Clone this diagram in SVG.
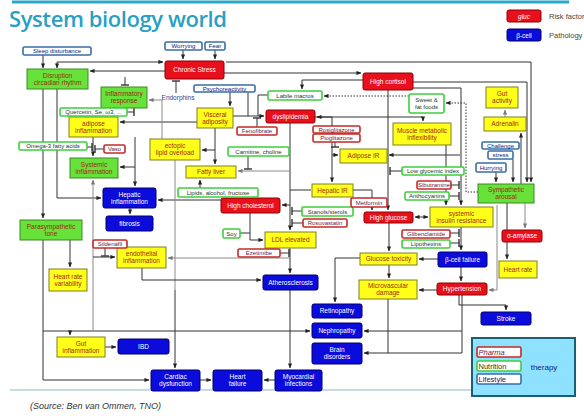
<svg xmlns="http://www.w3.org/2000/svg" width="584" height="416" viewBox="0 0 584 416">
<defs>
<marker id="a" viewBox="0 0 6 6" refX="5.5" refY="3" markerWidth="5" markerHeight="5" orient="auto-start-reverse" markerUnits="userSpaceOnUse"><path d="M0,0.5 L6,3 L0,5.5 z" fill="#222"/></marker>
<marker id="ag" viewBox="0 0 6 6" refX="5.5" refY="3" markerWidth="5" markerHeight="5" orient="auto-start-reverse" markerUnits="userSpaceOnUse"><path d="M0,0.5 L6,3 L0,5.5 z" fill="#777"/></marker>
<marker id="t" viewBox="0 0 4 8" refX="2" refY="4" markerWidth="4" markerHeight="8" orient="auto" markerUnits="userSpaceOnUse"><path d="M2,0 V8" stroke="#333" stroke-width="1.4"/></marker>
</defs>
<style>
text{font-family:"Liberation Sans",Arial,sans-serif;font-size:6px;text-anchor:middle}
.fr{fill:#e8101c;stroke:#8b0000;stroke-width:1}
.fb{fill:#0b0bdc;stroke:#00006a;stroke-width:1}
.fy{fill:#ffff1a;stroke:#7f7f20;stroke-width:1}
.fg{fill:#66e23a;stroke:#3d8a25;stroke-width:1}
.op{fill:#fff;stroke:#c42a2a;stroke-width:1.6}
.on{fill:#fff;stroke:#3ccf3c;stroke-width:1.6}
.ol{fill:#fff;stroke:#3a6ea5;stroke-width:1.6}
.tw{fill:#fff;font-size:6.5px}
.ty{fill:#9c2a10;font-size:6.5px}
.tp{fill:#6a1a40}
.tn{fill:#1a3a1a}
.tl{fill:#10207a}
.k{fill:none;stroke:#333;stroke-width:1;marker-end:url(#a)}
.kn{fill:none;stroke:#333;stroke-width:1}
.b{fill:none;stroke:#333;stroke-width:1;marker-start:url(#a);marker-end:url(#a)}
.g{fill:none;stroke:#8a8a8a;stroke-width:1;marker-end:url(#ag)}
.gn{fill:none;stroke:#8a8a8a;stroke-width:1}
.d{fill:none;stroke:#333;stroke-width:1;stroke-dasharray:1.5,1.5;marker-end:url(#a)}
.t{fill:none;stroke:#333;stroke-width:1;marker-end:url(#t)}
</style>
<rect width="584" height="416" fill="#fff"/>
<line x1="12" y1="2" x2="569" y2="2" stroke="#2aa8c8" stroke-width="3"/>
<text x="9" y="27" style="font-family:'Open Sans','Liberation Sans',sans-serif;font-size:22px;font-weight:600;text-anchor:start;fill:#2a9fc4" textLength="218">System biology world</text>
<line x1="10" y1="390" x2="472" y2="390" stroke="#c6dbe3" stroke-width="2"/>
<text x="30" y="409" style="font-size:9px;font-style:italic;text-anchor:start;fill:#333">(Source: Ben van Ommen, TNO)</text>

<g id="legend">
<rect x="507" y="10" width="34" height="12" rx="2" class="fr"/><text x="524" y="18.5" class="tw" style="font-style:italic">gluc</text>
<text x="549" y="19" style="font-size:7.5px;text-anchor:start;fill:#444">Risk factor</text>
<rect x="507" y="29" width="34" height="12" rx="2" class="fb"/><text x="524" y="37.5" class="tw">β-cell</text>
<text x="549" y="38" style="font-size:7.5px;text-anchor:start;fill:#444">Pathology</text>
</g>

<g id="connectors">
<path class="k" d="M43,55 V68"/>
<path class="k" d="M57,62 H163"/>
<path class="k" d="M57,62 V68"/>
<path class="k" d="M226,62 H531 V182"/>
<path class="k" d="M165,71 H90"/>
<path class="k" d="M224,73 H361"/>
<path class="k" d="M363,80 H302 V89"/>
<path class="k" d="M413,82 H527 V182"/>
<path class="k" d="M413,88 H461 V205"/>
<path class="k" d="M461,227 V250"/>
<path class="k" d="M461,267 V281"/>
<path class="k" d="M521,184 V133"/>
<path class="g" d="M505,117 V110"/>
<path class="k" d="M513,159 V182"/>
<path class="k" d="M496,172 V182"/>
<path class="g" d="M525,203 V228"/>
<path class="k" d="M507,203 V259"/>
<path class="g" d="M497,205 V290 H489"/>
<path class="k" d="M459,295 V305 H506 V310"/>
<path class="k" d="M462,295 V331 H364"/>
<path class="k" d="M462,331 V353 H364"/>
<path class="k" d="M438,259 H419"/>
<path class="k" d="M389,223 V251"/>
<path class="k" d="M389,265 V278"/>
<path class="k" d="M360,258 H335 V302"/>
<path class="kn" d="M388,299 V353"/>
<path class="k" d="M437,290 H419"/>
<path class="b" d="M415,217 H428"/>
<path class="k" d="M388,90 V210"/>
<path class="k" d="M353,190 H372 V210"/>
<path class="k" d="M315,117 H332 V182"/>
<path class="k" d="M332,155 H338"/>
<path class="k" d="M460,155 H389"/>
<path class="k" d="M446,145 V205"/>
<path class="b" d="M317,117 H423 V121"/>
<path class="k" d="M290,123 V230"/>
<path class="k" d="M290,205 H282"/>
<path class="kn" d="M311,190 H290"/>
<path class="k" d="M290,248 V273"/>
<path class="k" d="M250,213 V240 H263"/>
<path class="kn" d="M240,233 H250"/>
<path class="k" d="M221,200 H158"/>
<path class="k" d="M200,188 V180"/>
<path class="k" d="M215,128 V164"/>
<path class="k" d="M215,150 H202"/>
<path class="g" d="M290,171 H238"/>
<path class="gn" d="M175,160 V290"/>
<path class="k" d="M175,290 V368"/>
<path class="k" d="M290,290 V368"/>
<path class="k" d="M200,380 H211"/>
<path class="k" d="M275,380 H264"/>
<path class="k" d="M70,240 V267"/>
<path class="k" d="M105,347 H116"/>
<path class="k" d="M43,240 V380 H149"/>
<path class="k" d="M43,89 V218"/>
<path class="k" d="M57,89 V198 H101"/>
<path class="k" d="M43,331 H310"/>
<path class="k" d="M70,331 V335"/>
<path class="g" d="M93,331 V180"/>
<path class="k" d="M93,257 H115"/>
<path class="k" d="M142,268 V280 H261"/>
<path class="g" d="M290,258 H168"/>
<path class="k" d="M135,137 V186"/>
<path class="k" d="M135,167 H120"/>
<path class="k" d="M93,137 V156"/>
<path class="k" d="M197,122 H120"/>
<path class="k" d="M233,116 H264"/>
<path class="kn" d="M248,92 V116"/>
<path class="kn" d="M268,95 H258 V116"/>
<path class="k" d="M230,92 V106"/>
<path class="k" d="M183,50 V59"/>
<path class="k" d="M215,50 V59"/>
<path class="g" d="M162,139 V100 H149"/>
<path class="k" d="M130,208 V214"/>
<path class="d" d="M478,192 H466 V103 H446"/>
<path class="d" d="M409,96 H324"/>
<path class="t" d="M176,93 V81"/>
<path class="t" d="M125,77 V85"/>
<path class="t" d="M127,112 H134"/>
<path class="t" d="M87,147 H92"/>
<path class="t" d="M104,149 H95"/>
<path class="t" d="M105,248 V256"/>
<path class="t" d="M257,127 V118"/>
<path class="t" d="M335,142 V147"/>
<path class="t" d="M248,156 V169"/>
<path class="t" d="M302,211 H292"/>
<path class="t" d="M303,223 H292"/>
<path class="t" d="M280,253 H289"/>
<path class="t" d="M402,171 H390"/>
<path class="t" d="M451,185 H459"/>
<path class="t" d="M449,196 H459"/>
<path class="t" d="M450,233 H459"/>
<path class="t" d="M450,243 H459"/>
</g>

<g id="disruption"><rect x="27" y="69" width="61" height="20" class="fg"/><text x="57.5" y="77.5" class="ty">Disruption</text><text x="57.5" y="84.5" class="ty">circadian rhythm</text></g>
<g id="inflammatory-response"><rect x="101" y="87" width="46" height="21" class="fg"/><text x="124" y="96" class="ty">Inflammatory</text><text x="124" y="103" class="ty">response</text></g>
<g id="adipose-inflammation"><rect x="69" y="117" width="49" height="20" class="fy"/><text x="93.5" y="125.5" class="ty">adipose</text><text x="93.5" y="132.5" class="ty">inflammation</text></g>
<g id="systemic-inflammation"><rect x="70" y="158" width="48" height="20" class="fg"/><text x="94" y="166.5" class="ty">Systemic</text><text x="94" y="173.5" class="ty">inflammation</text></g>
<g id="hepatic-inflammation"><rect x="103" y="188" width="53" height="20" rx="2" class="fb"/><text x="129.5" y="196.5" class="tw">Hepatic</text><text x="129.5" y="203.5" class="tw">inflammation</text></g>
<g id="fibrosis"><rect x="106" y="216" width="47" height="15" rx="2" class="fb"/><text x="129.5" y="225.5" class="tw">fibrosis</text></g>
<g id="parasympathetic"><rect x="20" y="220" width="62" height="20" class="fg"/><text x="51" y="228.5" class="ty">Parasympathetic</text><text x="51" y="235.5" class="ty">tone</text></g>
<g id="hrv"><rect x="49" y="269" width="38" height="22" class="fy"/><text x="68" y="278.5" class="ty">Heart rate</text><text x="68" y="285.5" class="ty">variability</text></g>
<g id="endothelial"><rect x="117" y="247" width="49" height="21" class="fy"/><text x="141.5" y="256" class="ty">endothelial</text><text x="141.5" y="263" class="ty">inflammation</text></g>
<g id="gut-inflammation"><rect x="57" y="337" width="48" height="20" class="fy"/><text x="81" y="345.5" class="ty">Gut</text><text x="81" y="352.5" class="ty">inflammation</text></g>
<g id="ibd"><rect x="118" y="339" width="51" height="15" rx="2" class="fb"/><text x="143.5" y="348.5" class="tw">IBD</text></g>
<g id="cardiac"><rect x="151" y="370" width="49" height="21" rx="2" class="fb"/><text x="175.5" y="379" class="tw">Cardiac</text><text x="175.5" y="386" class="tw">dysfunction</text></g>
<g id="heart-failure"><rect x="213" y="370" width="49" height="21" rx="2" class="fb"/><text x="237.5" y="379" class="tw">Heart</text><text x="237.5" y="386" class="tw">failure</text></g>
<g id="myocardial"><rect x="275" y="370" width="47" height="21" rx="2" class="fb"/><text x="298.5" y="379" class="tw">Myocardial</text><text x="298.5" y="386" class="tw">infections</text></g>
<g id="chronic-stress"><rect x="165" y="61" width="59" height="18" rx="2" class="fr"/><text x="194.5" y="72" class="tw">Chronic Stress</text></g>
<g id="visceral"><rect x="197" y="108" width="36" height="20" class="fy"/><text x="215" y="116.5" class="ty">Visceral</text><text x="215" y="123.5" class="ty">adiposity</text></g>
<g id="ectopic"><rect x="150" y="139" width="50" height="21" class="fy"/><text x="175" y="148" class="ty">ectopic</text><text x="175" y="155" class="ty">lipid overload</text></g>
<g id="fatty-liver"><rect x="186" y="166" width="50" height="12" class="fy"/><text x="211" y="174" class="ty">Fatty liver</text></g>
<g id="high-cholesterol"><rect x="221" y="198" width="59" height="15" rx="2" class="fr"/><text x="250.5" y="207.5" class="tw">High cholesterol</text></g>
<g id="ldl"><rect x="265" y="232" width="51" height="16" class="fy"/><text x="290.5" y="242" class="ty">LDL elevated</text></g>
<g id="atherosclerosis"><rect x="263" y="275" width="55" height="15" rx="2" class="fb"/><text x="290.5" y="284.5" class="tw">Atherosclerosis</text></g>
<g id="dyslipidemia"><rect x="266" y="110" width="49" height="13" rx="2" class="fr"/><text x="290.5" y="118.5" class="tw">dyslipidemia</text></g>
<g id="high-cortisol"><rect x="363" y="73" width="50" height="17" rx="2" class="fr"/><text x="388" y="83.5" class="tw">High cortisol</text></g>
<g id="adipose-ir"><rect x="340" y="149" width="47" height="14" class="fy"/><text x="363.5" y="158" class="ty">Adipose IR</text></g>
<g id="hepatic-ir"><rect x="312" y="184" width="41" height="13" class="fy"/><text x="332.5" y="192.5" class="ty">Hepatic IR</text></g>
<g id="high-glucose"><rect x="364" y="212" width="49" height="11" rx="2" class="fr"/><text x="388.5" y="219.5" class="tw">High glucose</text></g>
<g id="muscle"><rect x="393" y="123" width="58" height="22" class="fy"/><text x="422" y="132.5" class="ty">Muscle metabolic</text><text x="422" y="139.5" class="ty">inflexibility</text></g>
<g id="systemic-ir"><rect x="430" y="207" width="63" height="20" class="fy"/><text x="461.5" y="215.5" class="ty">systemic</text><text x="461.5" y="222.5" class="ty">insulin resistance</text></g>
<g id="gut-activity"><rect x="486" y="87" width="32" height="21" class="fy"/><text x="502" y="96" class="ty">Gut</text><text x="502" y="103" class="ty">activity</text></g>
<g id="adrenalin"><rect x="484" y="117" width="42" height="14" class="fy"/><text x="505" y="126" class="ty">Adrenalin</text></g>
<g id="sympathetic"><rect x="478" y="184" width="56" height="19" class="fg"/><text x="506" y="192" class="ty">Sympathetic</text><text x="506" y="199" class="ty">arousal</text></g>
<g id="amylase"><rect x="502" y="230" width="40" height="12" rx="2" class="fr"/><text x="522" y="238" class="tw">α-amylase</text></g>
<g id="heart-rate"><rect x="499" y="261" width="38" height="17" class="fy"/><text x="518" y="271.5" class="ty">Heart rate</text></g>
<g id="beta-cell-failure"><rect x="438" y="252" width="49" height="15" rx="2" class="fb"/><text x="462.5" y="261.5" class="tw">β-cell failure</text></g>
<g id="glucose-toxicity"><rect x="360" y="253" width="57" height="12" class="fy"/><text x="388.5" y="261" class="ty">Glucose toxicity</text></g>
<g id="microvascular"><rect x="359" y="280" width="58" height="19" class="fy"/><text x="388" y="288" class="ty">Microvascular</text><text x="388" y="295" class="ty">damage</text></g>
<g id="hypertension"><rect x="437" y="283" width="50" height="12" rx="2" class="fr"/><text x="462" y="291" class="tw">Hypertension</text></g>
<g id="stroke"><rect x="481" y="312" width="50" height="13" rx="2" class="fb"/><text x="506" y="320.5" class="tw">Stroke</text></g>
<g id="retinopathy"><rect x="312" y="304" width="50" height="14" rx="2" class="fb"/><text x="337" y="313" class="tw">Retinopathy</text></g>
<g id="nephropathy"><rect x="312" y="323" width="50" height="15" rx="2" class="fb"/><text x="337" y="332.5" class="tw">Nephropathy</text></g>
<g id="brain"><rect x="312" y="343" width="50" height="21" rx="2" class="fb"/><text x="337" y="352" class="tw">Brain</text><text x="337" y="359" class="tw">disorders</text></g>

<g id="sleep"><rect x="23" y="47" width="68" height="8" rx="1.5" class="ol"/><text x="57" y="53" class="tl">Sleep disturbance</text></g>
<g id="worrying"><rect x="165" y="42" width="37" height="8" rx="1.5" class="ol"/><text x="183.5" y="48" class="tl">Worrying</text></g>
<g id="fear"><rect x="205" y="42" width="20" height="8" rx="1.5" class="ol"/><text x="215" y="48" class="tl">Fear</text></g>
<g id="psycho"><rect x="194" y="85" width="61" height="7" rx="1.5" class="ol"/><text x="224.5" y="90.5" class="tl">Psychoreactivity</text></g>
<g id="challenge"><rect x="482" y="142" width="37" height="7" rx="1.5" class="ol"/><text x="500.5" y="147.5" class="tl">Challenge</text></g>
<g id="stress"><rect x="488" y="151" width="25" height="8" rx="1.5" class="ol"/><text x="500.5" y="157" class="tl">stress</text></g>
<g id="hurrying"><rect x="476" y="163" width="30" height="9" rx="1.5" class="ol"/><text x="491" y="169.5" class="tl">Hurrying</text></g>
<g id="endorphins"><text x="178" y="100" style="fill:#404080;font-size:6.5px">Endorphins</text></g>

<g id="quercetin"><rect x="60" y="108" width="67" height="8" rx="1.5" class="on"/><text x="93.5" y="114" class="tn">Quercetin, Se, ω3, ...</text></g>
<g id="omega3"><rect x="19" y="142" width="68" height="8" rx="1.5" class="on"/><text x="53" y="148" class="tn">Omega-3 fatty acids</text></g>
<g id="labile"><rect x="268" y="91" width="54" height="9" rx="1.5" class="on"/><text x="295" y="97.5" class="tn">Labile macros</text></g>
<g id="sweet-fat"><rect x="409" y="94" width="35" height="19" rx="2" class="on"/><text x="426.5" y="102" class="tn">Sweet &amp;</text><text x="426.5" y="109" class="tn">fat foods</text></g>
<g id="carnitine"><rect x="228" y="147" width="61" height="9" rx="1.5" class="on"/><text x="258.5" y="153.5" class="tn">Carnitine, choline</text></g>
<g id="lipids"><rect x="178" y="188" width="80" height="9" rx="1.5" class="on"/><text x="218" y="194.5" class="tn">Lipids, alcohol, fructose</text></g>
<g id="soy"><rect x="223" y="229" width="17" height="9" rx="1.5" class="on"/><text x="231.5" y="235.5" class="tn">Soy</text></g>
<g id="stanols"><rect x="302" y="207" width="51" height="9" rx="1.5" class="on"/><text x="327.5" y="213.5" class="tn">Stanols/sterols</text></g>
<g id="low-gi"><rect x="402" y="167" width="62" height="8" rx="1.5" class="on"/><text x="433" y="173" class="tn">Low glycemic index</text></g>
<g id="anthocyanins"><rect x="405" y="192" width="44" height="8" rx="1.5" class="on"/><text x="427" y="198" class="tn">Anthocyanins</text></g>
<g id="lipothexins"><rect x="402" y="240" width="48" height="8" rx="1.5" class="on"/><text x="426" y="246" class="tn">Lipothexins</text></g>

<g id="vaso"><rect x="104" y="145" width="21" height="8" rx="1.5" class="op"/><text x="114.5" y="151" class="tp">Vaso</text></g>
<g id="sildenafil"><rect x="93" y="240" width="34" height="8" rx="1.5" class="op"/><text x="110" y="246" class="tp">Sildenafil</text></g>
<g id="fenofibrate"><rect x="237" y="127" width="40" height="8" rx="1.5" class="op"/><text x="257" y="133" class="tp">Fenofibrate</text></g>
<g id="rosiglitazone"><rect x="313" y="126" width="47" height="7" rx="1.5" class="op"/><text x="336.5" y="131.5" class="tp">Rosiglitazone</text></g>
<g id="pioglitazone"><rect x="313" y="134" width="47" height="8" rx="1.5" class="op"/><text x="336.5" y="140" class="tp">Pioglitazone</text></g>
<g id="metformin"><rect x="351" y="198" width="36" height="9" rx="1.5" class="op"/><text x="369" y="204.5" class="tp">Metformin</text></g>
<g id="rosuvastatin"><rect x="303" y="219" width="44" height="8" rx="1.5" class="op"/><text x="325" y="225" class="tp">Rosuvastatin</text></g>
<g id="ezetimibe"><rect x="238" y="249" width="42" height="8" rx="1.5" class="op"/><text x="259" y="255" class="tp">Ezetimibe</text></g>
<g id="sibutramine"><rect x="417" y="181" width="34" height="8" rx="1.5" class="op"/><text x="434" y="187" class="tp">Sibutramine</text></g>
<g id="glibenclamide"><rect x="402" y="230" width="48" height="8" rx="1.5" class="op"/><text x="426" y="236" class="tp">Glibenclamide</text></g>

<g id="therapy">
<rect x="472" y="338" width="103" height="58" fill="#8fe2ff" stroke="#1a6070" stroke-width="2"/>
<rect x="477" y="347" width="44" height="10" rx="1.5" class="op"/><text x="478.5" y="355" class="tp" style="font-size:7.5px;font-style:italic;text-anchor:start">Pharma</text>
<rect x="477" y="361" width="44" height="10" rx="1.5" class="on"/><text x="478.5" y="369" class="tn" style="font-size:7.5px;text-anchor:start">Nutrition</text>
<rect x="477" y="374" width="44" height="10" rx="1.5" class="ol"/><text x="478.5" y="382" class="tl" style="font-size:7.5px;text-anchor:start">Lifestyle</text>
<text x="544" y="370" class="tl" style="font-size:8px">therapy</text>
</g>
</svg>
